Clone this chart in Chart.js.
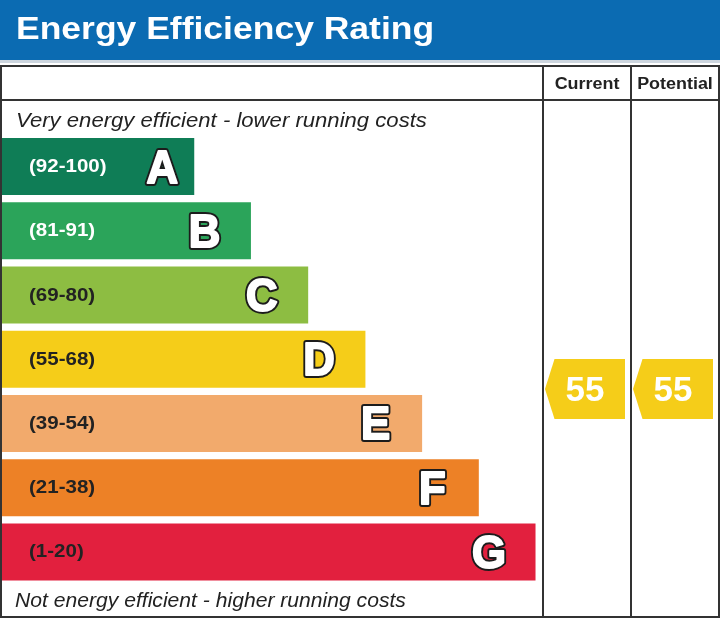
<!DOCTYPE html>
<html><head><meta charset="utf-8">
<script src="https://cdn.jsdelivr.net/npm/chart.js@4"></script>
<style>
html,body{margin:0;padding:0;background:#fff;}
#wrap{position:relative;width:720px;height:618px;overflow:hidden;font-family:"Liberation Sans",Arial,Helvetica,sans-serif;}
#hdr{position:absolute;left:0;top:0;width:720px;height:60px;background:#0b6bb2;}
#hdrline{position:absolute;left:0;top:60px;width:720px;height:3px;background:#cdd6df;}
#title{position:absolute;left:16px;top:13.3px;line-height:31px;color:#fff;font-weight:bold;font-size:31px;transform:scaleX(1.145);transform-origin:0 0;white-space:nowrap;}
canvas{position:absolute;left:0;top:0;}
.cap{position:absolute;left:16px;font-style:italic;font-size:19.5px;line-height:19.5px;color:#222;transform-origin:0 0;white-space:nowrap;}
.col{position:absolute;top:75.8px;font-weight:bold;font-size:16px;line-height:16px;color:#222;text-align:center;transform:scaleX(1.12);white-space:nowrap;}
</style></head>
<body>
<div id="wrap">
  <div id="hdr"></div><div id="hdrline"></div>
  <canvas id="c" width="720" height="618"></canvas>
  <div id="title">Energy Efficiency Rating</div>
  <div class="col" style="left:543px;width:88px;">Current</div>
  <div class="col" style="left:631px;width:88px;">Potential</div>
  <div class="cap" style="top:111.2px;transform:scaleX(1.134);">Very energy efficient - lower running costs</div>
  <div class="cap" style="top:590.8px;left:15px;transform:scaleX(1.083);">Not energy efficient - higher running costs</div>
</div>
<script>
// ---- data ----
const bands = ['A','B','C','D','E','F','G'];
const bandLow = [92, 81, 69, 55, 39, 21, 1];
const bandHigh = [100, 91, 80, 68, 54, 38, 20];
const barLengths = [35.6, 46.1, 56.7, 67.3, 77.8, 88.3, 98.8];
const bandColors = ['#0f7d56', '#2ba45a', '#8dbd42', '#f5cd19', '#f2aa6c', '#ed8126', '#e2203e'];
const rangeTextColors = ['#ffffff', '#ffffff', '#222222', '#222222', '#222222', '#222222', '#222222'];
const currentRating = 55;
const potentialRating = 55;

const rangeLabels = bands.map((b, i) => '(' + bandLow[i] + '-' + bandHigh[i] + ')');

function ratingIndex(v) {
  const i = bandLow.findIndex((lo, k) => v >= lo && v <= bandHigh[k]);
  return i - 0.5 + (bandHigh[i] - v + 0.5) / (bandHigh[i] - bandLow[i] + 1);
}
function ratingBand(v) {
  return bandLow.findIndex((lo, k) => v >= lo && v <= bandHigh[k]);
}

const tablePlugin = {
  id: 'table',
  beforeDraw(chart) {
    const ctx = chart.ctx;
    const ca = chart.chartArea;
    ctx.save();
    ctx.strokeStyle = '#333';
    ctx.lineWidth = 2;
    ctx.strokeRect(1, 66, 718, 551);
    ctx.beginPath();
    ctx.moveTo(1, 100); ctx.lineTo(719, 100);
    const c1 = Math.round(ca.right) + 1;
    ctx.moveTo(c1, 66); ctx.lineTo(c1, 617);
    ctx.moveTo(631, 66); ctx.lineTo(631, 617);
    ctx.stroke();
    ctx.restore();
  }
};

const labelPlugin = {
  id: 'labels',
  afterDatasetsDraw(chart) {
    const ctx = chart.ctx;
    const meta = chart.getDatasetMeta(0);
    meta.data.forEach((bar, i) => {
      const cy = bar.y;
      // range label
      ctx.save();
      ctx.translate(29, cy + 5.5);
      ctx.scale(1.14, 1);
      ctx.font = 'bold 18px "Liberation Sans", Arial, sans-serif';
      ctx.fillStyle = rangeTextColors[i];
      ctx.textAlign = 'left';
      ctx.textBaseline = 'alphabetic';
      ctx.fillText(rangeLabels[i], 0, 0);
      ctx.restore();
      // band letter
      const lx = i === 0 ? bar.x - 32 : bar.x - 46.5;
      ctx.save();
      ctx.translate(lx, cy + 16);
      ctx.scale(0.95, 1);
      ctx.font = 'bold 46px "Liberation Sans", Arial, sans-serif';
      ctx.textAlign = 'center';
      ctx.textBaseline = 'alphabetic';
      ctx.lineJoin = 'round';
      ctx.lineWidth = 6;
      ctx.strokeStyle = '#1c1c1c';
      ctx.strokeText(bands[i], 0, 0);
      ctx.lineWidth = 2;
      ctx.strokeStyle = '#ffffff';
      ctx.strokeText(bands[i], 0, 0);
      ctx.fillStyle = '#ffffff';
      ctx.fillText(bands[i], 0, 0);
      ctx.restore();
    });
    // rating arrows
    const ys = chart.scales.y;
    const h = meta.data[0].height + 3;
    const cols = [[chart.chartArea.right + 1, 631, currentRating], [631, 719, potentialRating]];
    cols.forEach(([l, r, v]) => {
      const y = ys.getPixelForValue(ratingIndex(v));
      const tip = l + 2, sh = tip + 9.5, right = r - 6;
      ctx.save();
      ctx.fillStyle = bandColors[ratingBand(v)];
      ctx.beginPath();
      ctx.moveTo(tip, y);
      ctx.lineTo(sh, y - h / 2);
      ctx.lineTo(right, y - h / 2);
      ctx.lineTo(right, y + h / 2);
      ctx.lineTo(sh, y + h / 2);
      ctx.closePath();
      ctx.fill();
      ctx.font = 'bold 35px "Liberation Sans", Arial, sans-serif';
      ctx.fillStyle = '#fff';
      ctx.textAlign = 'center';
      ctx.textBaseline = 'alphabetic';
      ctx.fillText(String(v), (tip + right) / 2, y + 11.5);
      ctx.restore();
    });
  }
};

new Chart(document.getElementById('c'), {
  type: 'bar',
  data: {
    labels: bands,
    datasets: [{
      data: barLengths,
      backgroundColor: bandColors,
      borderWidth: 0,
      barPercentage: 0.887,
      categoryPercentage: 1
    }]
  },
  options: {
    indexAxis: 'y',
    responsive: false,
    animation: false,
    devicePixelRatio: 1,
    layout: { padding: { left: 2, right: 178, top: 134.4, bottom: 33.9 } },
    scales: {
      x: { display: false, min: 0, max: 100 },
      y: { display: false }
    },
    plugins: { legend: { display: false }, tooltip: { enabled: false }, title: { display: false } }
  },
  plugins: [tablePlugin, labelPlugin]
});
</script>
</body></html>
